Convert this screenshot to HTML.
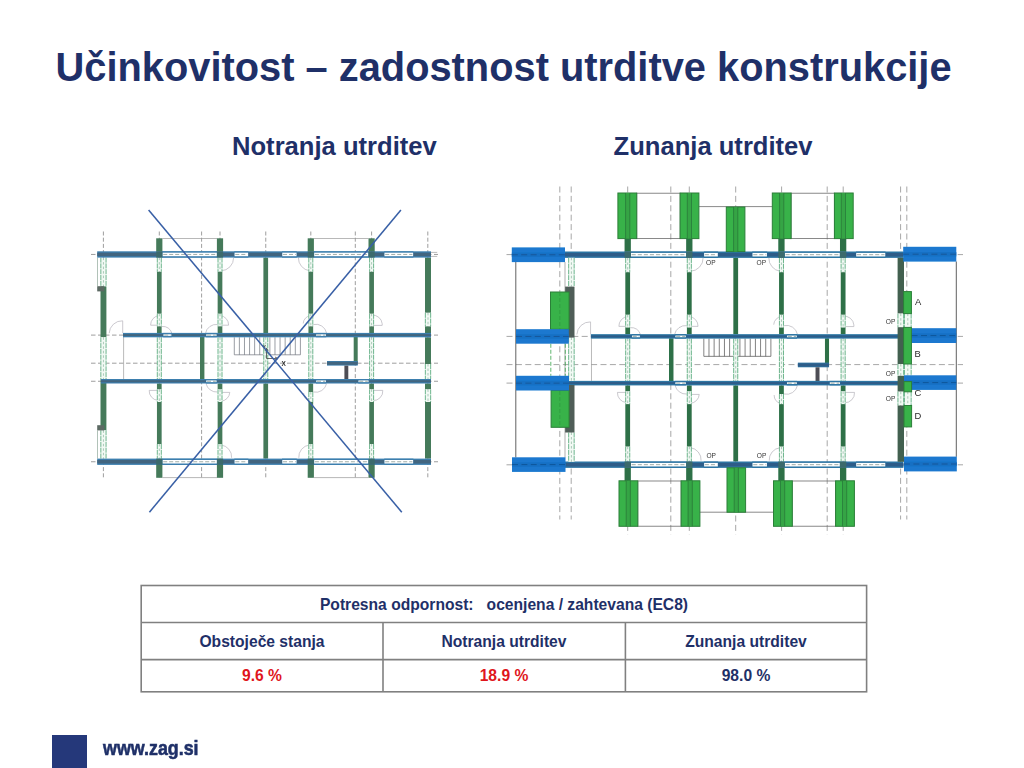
<!DOCTYPE html>
<html><head><meta charset="utf-8"><title>Slide</title>
<style>
html,body{margin:0;padding:0;background:#fff;}
body{width:1024px;height:768px;position:relative;overflow:hidden;font-family:"Liberation Sans",sans-serif;color:#1f3068;}
.t{position:absolute;white-space:nowrap;font-weight:bold;line-height:1;}
#title{left:55.6px;top:47.6px;font-size:39.82px;}
#sub1{left:232px;top:133.8px;font-size:25.6px;}
#sub2{left:613.5px;top:133.8px;font-size:25.6px;}
#tbl{position:absolute;left:140px;top:585px;width:727px;height:107px;}
.c{position:absolute;font-weight:bold;font-size:15.64px;line-height:1;text-align:center;white-space:nowrap;}
.red{color:#e0161c;}
#sq{position:absolute;left:52px;top:735px;width:34.5px;height:33px;background:#25387a;}
#www{left:102.6px;top:738.5px;font-size:19.3px;transform-origin:0 0;transform:scaleX(0.926);-webkit-text-stroke:0.55px #1f3068;}
svg{position:absolute;left:0;top:0;}
</style></head><body>
<div class="t" id="title">Učinkovitost – zadostnost utrditve konstrukcije</div>
<div class="t" id="sub1">Notranja utrditev</div>
<div class="t" id="sub2">Zunanja utrditev</div>
<svg width="1024" height="768" viewBox="0 0 1024 768" font-family="Liberation Sans, sans-serif">
<defs><filter id="bl" x="-5%" y="-5%" width="110%" height="110%"><feGaussianBlur stdDeviation="0.45"/></filter><filter id="bl2" x="-5%" y="-5%" width="110%" height="110%"><feGaussianBlur stdDeviation="0.3"/></filter></defs>
<g filter="url(#bl)">
<line x1="103.4" y1="231.5" x2="103.4" y2="478.6" stroke="#858585" stroke-width="0.8" stroke-dasharray="4 2.2"/>
<line x1="159.3" y1="231.5" x2="159.3" y2="478.6" stroke="#858585" stroke-width="0.8" stroke-dasharray="4 2.2"/>
<line x1="201.6" y1="231.5" x2="201.6" y2="478.6" stroke="#858585" stroke-width="0.8" stroke-dasharray="4 2.2"/>
<line x1="220" y1="231.5" x2="220" y2="478.6" stroke="#858585" stroke-width="0.8" stroke-dasharray="4 2.2"/>
<line x1="265.75" y1="231.5" x2="265.75" y2="478.6" stroke="#858585" stroke-width="0.8" stroke-dasharray="4 2.2"/>
<line x1="310.8" y1="231.5" x2="310.8" y2="478.6" stroke="#858585" stroke-width="0.8" stroke-dasharray="4 2.2"/>
<line x1="355.3" y1="231.5" x2="355.3" y2="478.6" stroke="#858585" stroke-width="0.8" stroke-dasharray="4 2.2"/>
<line x1="371.6" y1="231.5" x2="371.6" y2="478.6" stroke="#858585" stroke-width="0.8" stroke-dasharray="4 2.2"/>
<line x1="427.8" y1="231.5" x2="427.8" y2="478.6" stroke="#858585" stroke-width="0.8" stroke-dasharray="4 2.2"/>
<line x1="91" y1="254.45" x2="438" y2="254.45" stroke="#858585" stroke-width="0.8" stroke-dasharray="4.5 2.5"/>
<line x1="91" y1="335.1" x2="438" y2="335.1" stroke="#858585" stroke-width="0.8" stroke-dasharray="4.5 2.5"/>
<line x1="91" y1="363.2" x2="438" y2="363.2" stroke="#858585" stroke-width="0.8" stroke-dasharray="4.5 2.5"/>
<line x1="91" y1="381.25" x2="438" y2="381.25" stroke="#858585" stroke-width="0.8" stroke-dasharray="4.5 2.5"/>
<line x1="91" y1="461.75" x2="438" y2="461.75" stroke="#858585" stroke-width="0.8" stroke-dasharray="4.5 2.5"/>
<line x1="123.6" y1="337" x2="123.6" y2="379" stroke="#9d9d9d" stroke-width="0.7"/>
<path d="M234.3 337.3 V354.8 H300.4 V337.3" fill="none" stroke="#6f747c" stroke-width="0.7"/>
<line x1="239.38" y1="337.3" x2="239.38" y2="354.8" stroke="#6f747c" stroke-width="0.7"/>
<line x1="244.47" y1="337.3" x2="244.47" y2="354.8" stroke="#6f747c" stroke-width="0.7"/>
<line x1="249.55" y1="337.3" x2="249.55" y2="354.8" stroke="#6f747c" stroke-width="0.7"/>
<line x1="254.64" y1="337.3" x2="254.64" y2="354.8" stroke="#6f747c" stroke-width="0.7"/>
<line x1="259.72" y1="337.3" x2="259.72" y2="354.8" stroke="#6f747c" stroke-width="0.7"/>
<line x1="264.81" y1="337.3" x2="264.81" y2="354.8" stroke="#6f747c" stroke-width="0.7"/>
<line x1="269.89" y1="337.3" x2="269.89" y2="354.8" stroke="#6f747c" stroke-width="0.7"/>
<line x1="274.98" y1="337.3" x2="274.98" y2="354.8" stroke="#6f747c" stroke-width="0.7"/>
<line x1="280.06" y1="337.3" x2="280.06" y2="354.8" stroke="#6f747c" stroke-width="0.7"/>
<line x1="285.15" y1="337.3" x2="285.15" y2="354.8" stroke="#6f747c" stroke-width="0.7"/>
<line x1="290.23" y1="337.3" x2="290.23" y2="354.8" stroke="#6f747c" stroke-width="0.7"/>
<line x1="295.32" y1="337.3" x2="295.32" y2="354.8" stroke="#6f747c" stroke-width="0.7"/>
<path d="M159.3 315.5 A9.5 9.5 0 0 0 150.6 325.2 L159.3 325.2" fill="none" stroke="#b4b2ba" stroke-width="0.7"/>
<path d="M162 326.5 A9 9 0 0 1 171.8 333.2" fill="none" stroke="#b4b2ba" stroke-width="0.7"/>
<path d="M220 315.5 A9.5 9.5 0 0 1 228.6 325.2 L220 325.2" fill="none" stroke="#b4b2ba" stroke-width="0.7"/>
<path d="M205.5 333.2 A11 11 0 0 1 217.6 324.5" fill="none" stroke="#b4b2ba" stroke-width="0.7"/>
<path d="M233.6 257.6 A13 13 0 0 1 221 270.8" fill="none" stroke="#b4b2ba" stroke-width="0.7"/>
<path d="M298.4 257.6 A13 13 0 0 0 309.6 270.8" fill="none" stroke="#b4b2ba" stroke-width="0.7"/>
<path d="M310.8 315.5 A8.5 8.5 0 0 0 303.2 323.5" fill="none" stroke="#b4b2ba" stroke-width="0.7"/>
<path d="M313.4 324.5 A11 11 0 0 1 326.6 333.2" fill="none" stroke="#b4b2ba" stroke-width="0.7"/>
<path d="M371.6 315.2 A9.5 9.5 0 0 1 382.2 323.8 L382.2 325.4" fill="none" stroke="#b4b2ba" stroke-width="0.7"/>
<line x1="371.6" y1="325.4" x2="382.2" y2="325.4" stroke="#b4b2ba" stroke-width="0.7"/>
<path d="M149.2 390.4 A9.5 9.5 0 0 0 158 400.4" fill="none" stroke="#b4b2ba" stroke-width="0.7"/>
<line x1="149.2" y1="390.4" x2="159" y2="390.4" stroke="#b4b2ba" stroke-width="0.7"/>
<path d="M206 383.5 A11 11 0 0 0 217.6 392" fill="none" stroke="#b4b2ba" stroke-width="0.7"/>
<path d="M229.8 392.4 A9.5 9.5 0 0 1 221 401.2" fill="none" stroke="#b4b2ba" stroke-width="0.7"/>
<line x1="221" y1="392.4" x2="229.8" y2="392.4" stroke="#b4b2ba" stroke-width="0.7"/>
<path d="M221 445 A12 12 0 0 1 231.6 457.8" fill="none" stroke="#b4b2ba" stroke-width="0.7"/>
<path d="M326.6 383.5 A11 11 0 0 1 313.4 392" fill="none" stroke="#b4b2ba" stroke-width="0.7"/>
<path d="M303.6 393 A8.5 8.5 0 0 0 310 401.2" fill="none" stroke="#b4b2ba" stroke-width="0.7"/>
<path d="M298.8 457.8 A12 12 0 0 1 309.6 445" fill="none" stroke="#b4b2ba" stroke-width="0.7"/>
<path d="M382.8 390.4 A9.5 9.5 0 0 1 373 400.6" fill="none" stroke="#b4b2ba" stroke-width="0.7"/>
<line x1="371.6" y1="390.4" x2="382.8" y2="390.4" stroke="#b4b2ba" stroke-width="0.7"/>
<path d="M109.2 333.2 A13 13 0 0 1 122.7 320.8 L122.7 333.2" fill="none" stroke="#b4b2ba" stroke-width="0.7"/>
<rect x="156.95" y="257.6" width="4.7" height="14.2" fill="#f3faf5"/>
<line x1="157.3" y1="257.6" x2="157.3" y2="271.8" stroke="#5fae82" stroke-width="0.9" stroke-dasharray="5 0.8"/>
<line x1="161.3" y1="257.6" x2="161.3" y2="271.8" stroke="#5fae82" stroke-width="0.9" stroke-dasharray="5 0.8"/>
<line x1="159.3" y1="257.6" x2="159.3" y2="271.8" stroke="#7aa890" stroke-width="0.6" stroke-dasharray="2.5 2"/>
<rect x="156.95" y="271.8" width="4.7" height="42" fill="#447a5a"/>
<rect x="156.95" y="313.8" width="4.7" height="12.6" fill="#f3faf5"/>
<line x1="157.3" y1="313.8" x2="157.3" y2="326.4" stroke="#5fae82" stroke-width="0.9" stroke-dasharray="5 0.8"/>
<line x1="161.3" y1="313.8" x2="161.3" y2="326.4" stroke="#5fae82" stroke-width="0.9" stroke-dasharray="5 0.8"/>
<line x1="159.3" y1="313.8" x2="159.3" y2="326.4" stroke="#7aa890" stroke-width="0.6" stroke-dasharray="2.5 2"/>
<rect x="156.95" y="326.4" width="4.7" height="6.6" fill="#447a5a"/>
<rect x="156.95" y="337.3" width="4.7" height="41.7" fill="#f3faf5"/>
<line x1="157.3" y1="337.3" x2="157.3" y2="379" stroke="#5fae82" stroke-width="0.9" stroke-dasharray="5 0.8"/>
<line x1="161.3" y1="337.3" x2="161.3" y2="379" stroke="#5fae82" stroke-width="0.9" stroke-dasharray="5 0.8"/>
<line x1="159.3" y1="337.3" x2="159.3" y2="379" stroke="#7aa890" stroke-width="0.6" stroke-dasharray="2.5 2"/>
<rect x="156.95" y="383.5" width="4.7" height="5.9" fill="#447a5a"/>
<rect x="156.95" y="389.4" width="4.7" height="12.6" fill="#f3faf5"/>
<line x1="157.3" y1="389.4" x2="157.3" y2="402" stroke="#5fae82" stroke-width="0.9" stroke-dasharray="5 0.8"/>
<line x1="161.3" y1="389.4" x2="161.3" y2="402" stroke="#5fae82" stroke-width="0.9" stroke-dasharray="5 0.8"/>
<line x1="159.3" y1="389.4" x2="159.3" y2="402" stroke="#7aa890" stroke-width="0.6" stroke-dasharray="2.5 2"/>
<rect x="156.95" y="402" width="4.7" height="42" fill="#447a5a"/>
<rect x="156.95" y="444" width="4.7" height="14.6" fill="#f3faf5"/>
<line x1="157.3" y1="444" x2="157.3" y2="458.6" stroke="#5fae82" stroke-width="0.9" stroke-dasharray="5 0.8"/>
<line x1="161.3" y1="444" x2="161.3" y2="458.6" stroke="#5fae82" stroke-width="0.9" stroke-dasharray="5 0.8"/>
<line x1="159.3" y1="444" x2="159.3" y2="458.6" stroke="#7aa890" stroke-width="0.6" stroke-dasharray="2.5 2"/>
<rect x="217.65" y="257.6" width="4.7" height="14.2" fill="#f3faf5"/>
<line x1="218" y1="257.6" x2="218" y2="271.8" stroke="#5fae82" stroke-width="0.9" stroke-dasharray="5 0.8"/>
<line x1="222" y1="257.6" x2="222" y2="271.8" stroke="#5fae82" stroke-width="0.9" stroke-dasharray="5 0.8"/>
<line x1="220" y1="257.6" x2="220" y2="271.8" stroke="#7aa890" stroke-width="0.6" stroke-dasharray="2.5 2"/>
<rect x="217.65" y="271.8" width="4.7" height="42" fill="#447a5a"/>
<rect x="217.65" y="313.8" width="4.7" height="12.6" fill="#f3faf5"/>
<line x1="218" y1="313.8" x2="218" y2="326.4" stroke="#5fae82" stroke-width="0.9" stroke-dasharray="5 0.8"/>
<line x1="222" y1="313.8" x2="222" y2="326.4" stroke="#5fae82" stroke-width="0.9" stroke-dasharray="5 0.8"/>
<line x1="220" y1="313.8" x2="220" y2="326.4" stroke="#7aa890" stroke-width="0.6" stroke-dasharray="2.5 2"/>
<rect x="217.65" y="326.4" width="4.7" height="6.6" fill="#447a5a"/>
<rect x="217.65" y="337.3" width="4.7" height="41.7" fill="#f3faf5"/>
<line x1="218" y1="337.3" x2="218" y2="379" stroke="#5fae82" stroke-width="0.9" stroke-dasharray="5 0.8"/>
<line x1="222" y1="337.3" x2="222" y2="379" stroke="#5fae82" stroke-width="0.9" stroke-dasharray="5 0.8"/>
<line x1="220" y1="337.3" x2="220" y2="379" stroke="#7aa890" stroke-width="0.6" stroke-dasharray="2.5 2"/>
<rect x="217.65" y="383.5" width="4.7" height="5.9" fill="#447a5a"/>
<rect x="217.65" y="389.4" width="4.7" height="12.6" fill="#f3faf5"/>
<line x1="218" y1="389.4" x2="218" y2="402" stroke="#5fae82" stroke-width="0.9" stroke-dasharray="5 0.8"/>
<line x1="222" y1="389.4" x2="222" y2="402" stroke="#5fae82" stroke-width="0.9" stroke-dasharray="5 0.8"/>
<line x1="220" y1="389.4" x2="220" y2="402" stroke="#7aa890" stroke-width="0.6" stroke-dasharray="2.5 2"/>
<rect x="217.65" y="402" width="4.7" height="42" fill="#447a5a"/>
<rect x="217.65" y="444" width="4.7" height="14.6" fill="#f3faf5"/>
<line x1="218" y1="444" x2="218" y2="458.6" stroke="#5fae82" stroke-width="0.9" stroke-dasharray="5 0.8"/>
<line x1="222" y1="444" x2="222" y2="458.6" stroke="#5fae82" stroke-width="0.9" stroke-dasharray="5 0.8"/>
<line x1="220" y1="444" x2="220" y2="458.6" stroke="#7aa890" stroke-width="0.6" stroke-dasharray="2.5 2"/>
<rect x="263.4" y="257.6" width="4.7" height="75.4" fill="#447a5a"/>
<rect x="263.4" y="337.3" width="4.7" height="41.7" fill="#f3faf5"/>
<line x1="263.75" y1="337.3" x2="263.75" y2="379" stroke="#5fae82" stroke-width="0.9" stroke-dasharray="5 0.8"/>
<line x1="267.75" y1="337.3" x2="267.75" y2="379" stroke="#5fae82" stroke-width="0.9" stroke-dasharray="5 0.8"/>
<line x1="265.75" y1="337.3" x2="265.75" y2="379" stroke="#7aa890" stroke-width="0.6" stroke-dasharray="2.5 2"/>
<rect x="263.4" y="383.5" width="4.7" height="75.1" fill="#447a5a"/>
<rect x="308.45" y="257.6" width="4.7" height="14.2" fill="#f3faf5"/>
<line x1="308.8" y1="257.6" x2="308.8" y2="271.8" stroke="#5fae82" stroke-width="0.9" stroke-dasharray="5 0.8"/>
<line x1="312.8" y1="257.6" x2="312.8" y2="271.8" stroke="#5fae82" stroke-width="0.9" stroke-dasharray="5 0.8"/>
<line x1="310.8" y1="257.6" x2="310.8" y2="271.8" stroke="#7aa890" stroke-width="0.6" stroke-dasharray="2.5 2"/>
<rect x="308.45" y="271.8" width="4.7" height="42" fill="#447a5a"/>
<rect x="308.45" y="313.8" width="4.7" height="12.6" fill="#f3faf5"/>
<line x1="308.8" y1="313.8" x2="308.8" y2="326.4" stroke="#5fae82" stroke-width="0.9" stroke-dasharray="5 0.8"/>
<line x1="312.8" y1="313.8" x2="312.8" y2="326.4" stroke="#5fae82" stroke-width="0.9" stroke-dasharray="5 0.8"/>
<line x1="310.8" y1="313.8" x2="310.8" y2="326.4" stroke="#7aa890" stroke-width="0.6" stroke-dasharray="2.5 2"/>
<rect x="308.45" y="326.4" width="4.7" height="6.6" fill="#447a5a"/>
<rect x="308.45" y="337.3" width="4.7" height="41.7" fill="#f3faf5"/>
<line x1="308.8" y1="337.3" x2="308.8" y2="379" stroke="#5fae82" stroke-width="0.9" stroke-dasharray="5 0.8"/>
<line x1="312.8" y1="337.3" x2="312.8" y2="379" stroke="#5fae82" stroke-width="0.9" stroke-dasharray="5 0.8"/>
<line x1="310.8" y1="337.3" x2="310.8" y2="379" stroke="#7aa890" stroke-width="0.6" stroke-dasharray="2.5 2"/>
<rect x="308.45" y="383.5" width="4.7" height="8.5" fill="#447a5a"/>
<rect x="308.45" y="392" width="4.7" height="10" fill="#f3faf5"/>
<line x1="308.8" y1="392" x2="308.8" y2="402" stroke="#5fae82" stroke-width="0.9" stroke-dasharray="5 0.8"/>
<line x1="312.8" y1="392" x2="312.8" y2="402" stroke="#5fae82" stroke-width="0.9" stroke-dasharray="5 0.8"/>
<line x1="310.8" y1="392" x2="310.8" y2="402" stroke="#7aa890" stroke-width="0.6" stroke-dasharray="2.5 2"/>
<rect x="308.45" y="402" width="4.7" height="42" fill="#447a5a"/>
<rect x="308.45" y="444" width="4.7" height="14.6" fill="#f3faf5"/>
<line x1="308.8" y1="444" x2="308.8" y2="458.6" stroke="#5fae82" stroke-width="0.9" stroke-dasharray="5 0.8"/>
<line x1="312.8" y1="444" x2="312.8" y2="458.6" stroke="#5fae82" stroke-width="0.9" stroke-dasharray="5 0.8"/>
<line x1="310.8" y1="444" x2="310.8" y2="458.6" stroke="#7aa890" stroke-width="0.6" stroke-dasharray="2.5 2"/>
<rect x="369.25" y="257.6" width="4.7" height="14.2" fill="#f3faf5"/>
<line x1="369.6" y1="257.6" x2="369.6" y2="271.8" stroke="#5fae82" stroke-width="0.9" stroke-dasharray="5 0.8"/>
<line x1="373.6" y1="257.6" x2="373.6" y2="271.8" stroke="#5fae82" stroke-width="0.9" stroke-dasharray="5 0.8"/>
<line x1="371.6" y1="257.6" x2="371.6" y2="271.8" stroke="#7aa890" stroke-width="0.6" stroke-dasharray="2.5 2"/>
<rect x="369.25" y="271.8" width="4.7" height="42" fill="#447a5a"/>
<rect x="369.25" y="313.8" width="4.7" height="12.6" fill="#f3faf5"/>
<line x1="369.6" y1="313.8" x2="369.6" y2="326.4" stroke="#5fae82" stroke-width="0.9" stroke-dasharray="5 0.8"/>
<line x1="373.6" y1="313.8" x2="373.6" y2="326.4" stroke="#5fae82" stroke-width="0.9" stroke-dasharray="5 0.8"/>
<line x1="371.6" y1="313.8" x2="371.6" y2="326.4" stroke="#7aa890" stroke-width="0.6" stroke-dasharray="2.5 2"/>
<rect x="369.25" y="326.4" width="4.7" height="6.6" fill="#447a5a"/>
<rect x="369.25" y="337.3" width="4.7" height="41.7" fill="#f3faf5"/>
<line x1="369.6" y1="337.3" x2="369.6" y2="379" stroke="#5fae82" stroke-width="0.9" stroke-dasharray="5 0.8"/>
<line x1="373.6" y1="337.3" x2="373.6" y2="379" stroke="#5fae82" stroke-width="0.9" stroke-dasharray="5 0.8"/>
<line x1="371.6" y1="337.3" x2="371.6" y2="379" stroke="#7aa890" stroke-width="0.6" stroke-dasharray="2.5 2"/>
<rect x="369.25" y="383.5" width="4.7" height="5.9" fill="#447a5a"/>
<rect x="369.25" y="389.4" width="4.7" height="12.6" fill="#f3faf5"/>
<line x1="369.6" y1="389.4" x2="369.6" y2="402" stroke="#5fae82" stroke-width="0.9" stroke-dasharray="5 0.8"/>
<line x1="373.6" y1="389.4" x2="373.6" y2="402" stroke="#5fae82" stroke-width="0.9" stroke-dasharray="5 0.8"/>
<line x1="371.6" y1="389.4" x2="371.6" y2="402" stroke="#7aa890" stroke-width="0.6" stroke-dasharray="2.5 2"/>
<rect x="369.25" y="402" width="4.7" height="42" fill="#447a5a"/>
<rect x="369.25" y="444" width="4.7" height="14.6" fill="#f3faf5"/>
<line x1="369.6" y1="444" x2="369.6" y2="458.6" stroke="#5fae82" stroke-width="0.9" stroke-dasharray="5 0.8"/>
<line x1="373.6" y1="444" x2="373.6" y2="458.6" stroke="#5fae82" stroke-width="0.9" stroke-dasharray="5 0.8"/>
<line x1="371.6" y1="444" x2="371.6" y2="458.6" stroke="#7aa890" stroke-width="0.6" stroke-dasharray="2.5 2"/>
<rect x="156.2" y="238.3" width="6.2" height="13.3" fill="#447a5a"/>
<rect x="156.2" y="464.6" width="6.2" height="13.2" fill="#447a5a"/>
<rect x="216.9" y="238.3" width="6.2" height="13.3" fill="#447a5a"/>
<rect x="216.9" y="464.6" width="6.2" height="13.2" fill="#447a5a"/>
<rect x="307.7" y="238.3" width="6.2" height="13.3" fill="#447a5a"/>
<rect x="307.7" y="464.6" width="6.2" height="13.2" fill="#447a5a"/>
<rect x="368.5" y="238.3" width="6.2" height="13.3" fill="#447a5a"/>
<rect x="368.5" y="464.6" width="6.2" height="13.2" fill="#447a5a"/>
<line x1="162.3" y1="238.5" x2="217" y2="238.5" stroke="#9a9a9a" stroke-width="0.7"/>
<line x1="162.3" y1="477.6" x2="217" y2="477.6" stroke="#9a9a9a" stroke-width="0.7"/>
<line x1="313.8" y1="238.5" x2="368.6" y2="238.5" stroke="#9a9a9a" stroke-width="0.7"/>
<line x1="313.8" y1="477.6" x2="368.6" y2="477.6" stroke="#9a9a9a" stroke-width="0.7"/>
<rect x="200" y="337" width="4.4" height="42.2" fill="#447a5a"/>
<rect x="353.7" y="337" width="4" height="26" fill="#447a5a"/>
<rect x="327" y="361" width="30.7" height="4.6" fill="#3c7fae"/>
<rect x="327" y="361.8" width="30.7" height="3" fill="#42657f"/>
<rect x="344.4" y="365.6" width="3.9" height="13.6" fill="#4e4e54"/>
<rect x="425" y="257.6" width="6" height="55.2" fill="#447a5a"/>
<rect x="425" y="312.8" width="6" height="13.6" fill="#f3faf5"/>
<line x1="425.35" y1="312.8" x2="425.35" y2="326.4" stroke="#5fae82" stroke-width="0.9" stroke-dasharray="5 0.8"/>
<line x1="430.65" y1="312.8" x2="430.65" y2="326.4" stroke="#5fae82" stroke-width="0.9" stroke-dasharray="5 0.8"/>
<line x1="428" y1="312.8" x2="428" y2="326.4" stroke="#7aa890" stroke-width="0.6" stroke-dasharray="2.5 2"/>
<rect x="425" y="326.4" width="6" height="6.6" fill="#447a5a"/>
<rect x="425" y="337.3" width="6" height="26.7" fill="#447a5a"/>
<rect x="425" y="364" width="6" height="15" fill="#f3faf5"/>
<line x1="425.35" y1="364" x2="425.35" y2="379" stroke="#5fae82" stroke-width="0.9" stroke-dasharray="5 0.8"/>
<line x1="430.65" y1="364" x2="430.65" y2="379" stroke="#5fae82" stroke-width="0.9" stroke-dasharray="5 0.8"/>
<line x1="428" y1="364" x2="428" y2="379" stroke="#7aa890" stroke-width="0.6" stroke-dasharray="2.5 2"/>
<rect x="425" y="383.5" width="6" height="5.9" fill="#447a5a"/>
<rect x="425" y="389.4" width="6" height="12.6" fill="#f3faf5"/>
<line x1="425.35" y1="389.4" x2="425.35" y2="402" stroke="#5fae82" stroke-width="0.9" stroke-dasharray="5 0.8"/>
<line x1="430.65" y1="389.4" x2="430.65" y2="402" stroke="#5fae82" stroke-width="0.9" stroke-dasharray="5 0.8"/>
<line x1="428" y1="389.4" x2="428" y2="402" stroke="#7aa890" stroke-width="0.6" stroke-dasharray="2.5 2"/>
<rect x="425" y="402" width="6" height="56.6" fill="#447a5a"/>
<rect x="100.5" y="257.6" width="5.9" height="28.8" fill="#f3faf5"/>
<line x1="100.85" y1="257.6" x2="100.85" y2="286.4" stroke="#5fae82" stroke-width="0.9" stroke-dasharray="5 0.8"/>
<line x1="106.05" y1="257.6" x2="106.05" y2="286.4" stroke="#5fae82" stroke-width="0.9" stroke-dasharray="5 0.8"/>
<line x1="103.45" y1="257.6" x2="103.45" y2="286.4" stroke="#7aa890" stroke-width="0.6" stroke-dasharray="2.5 2"/>
<rect x="100.5" y="286.4" width="5.9" height="50.9" fill="#447a5a"/>
<rect x="100.5" y="337.3" width="5.9" height="41.7" fill="#f3faf5"/>
<line x1="100.85" y1="337.3" x2="100.85" y2="379" stroke="#5fae82" stroke-width="0.9" stroke-dasharray="5 0.8"/>
<line x1="106.05" y1="337.3" x2="106.05" y2="379" stroke="#5fae82" stroke-width="0.9" stroke-dasharray="5 0.8"/>
<line x1="103.45" y1="337.3" x2="103.45" y2="379" stroke="#7aa890" stroke-width="0.6" stroke-dasharray="2.5 2"/>
<rect x="100.5" y="379" width="5.9" height="51.3" fill="#447a5a"/>
<rect x="100.5" y="430.3" width="5.9" height="28.3" fill="#f3faf5"/>
<line x1="100.85" y1="430.3" x2="100.85" y2="458.6" stroke="#5fae82" stroke-width="0.9" stroke-dasharray="5 0.8"/>
<line x1="106.05" y1="430.3" x2="106.05" y2="458.6" stroke="#5fae82" stroke-width="0.9" stroke-dasharray="5 0.8"/>
<line x1="103.45" y1="430.3" x2="103.45" y2="458.6" stroke="#7aa890" stroke-width="0.6" stroke-dasharray="2.5 2"/>
<rect x="97.2" y="286.2" width="7" height="5.2" fill="#5c6a64"/>
<rect x="97.2" y="425.2" width="7" height="5.2" fill="#5c6a64"/>
<line x1="97.5" y1="257.6" x2="97.5" y2="286.4" stroke="#8fa89a" stroke-width="0.7"/>
<line x1="97.5" y1="430.3" x2="97.5" y2="458.6" stroke="#8fa89a" stroke-width="0.7"/>
<rect x="97.2" y="251.3" width="333.8" height="6.3" fill="#3c7fae"/>
<rect x="97.2" y="252.7" width="333.8" height="3.5" fill="#42657f"/>
<rect x="97.2" y="458.6" width="333.8" height="6.3" fill="#3c7fae"/>
<rect x="97.2" y="460" width="333.8" height="3.5" fill="#42657f"/>
<rect x="123" y="332.9" width="308" height="4.4" fill="#3c7fae"/>
<rect x="123" y="334.1" width="308" height="2" fill="#42657f"/>
<rect x="101" y="379" width="330" height="4.5" fill="#3c7fae"/>
<rect x="101" y="380.2" width="330" height="2.1" fill="#42657f"/>
<rect x="162.2" y="251.3" width="55" height="6.3" fill="#3c7fae"/>
<rect x="162.5" y="252.7" width="54.4" height="3.5" fill="#fff"/>
<line x1="163.2" y1="254.45" x2="216.2" y2="254.45" stroke="#8a9a94" stroke-width="0.8" stroke-dasharray="4 2"/>
<rect x="234.3" y="251.3" width="14.1" height="6.3" fill="#3c7fae"/>
<rect x="234.6" y="252.7" width="13.5" height="3.5" fill="#fff"/>
<line x1="235.3" y1="254.45" x2="247.4" y2="254.45" stroke="#8a9a94" stroke-width="0.8" stroke-dasharray="4 2"/>
<rect x="282" y="251.3" width="14.8" height="6.3" fill="#3c7fae"/>
<rect x="282.3" y="252.7" width="14.2" height="3.5" fill="#fff"/>
<line x1="283" y1="254.45" x2="295.8" y2="254.45" stroke="#8a9a94" stroke-width="0.8" stroke-dasharray="4 2"/>
<rect x="313.9" y="251.3" width="54.7" height="6.3" fill="#3c7fae"/>
<rect x="314.2" y="252.7" width="54.1" height="3.5" fill="#fff"/>
<line x1="314.9" y1="254.45" x2="367.6" y2="254.45" stroke="#8a9a94" stroke-width="0.8" stroke-dasharray="4 2"/>
<rect x="384.2" y="251.3" width="29.2" height="6.3" fill="#3c7fae"/>
<rect x="384.5" y="252.7" width="28.6" height="3.5" fill="#fff"/>
<line x1="385.2" y1="254.45" x2="412.4" y2="254.45" stroke="#8a9a94" stroke-width="0.8" stroke-dasharray="4 2"/>
<rect x="162.2" y="458.6" width="55" height="6.3" fill="#3c7fae"/>
<rect x="162.5" y="460" width="54.4" height="3.5" fill="#fff"/>
<line x1="163.2" y1="461.75" x2="216.2" y2="461.75" stroke="#8a9a94" stroke-width="0.8" stroke-dasharray="4 2"/>
<rect x="234.3" y="458.6" width="14.1" height="6.3" fill="#3c7fae"/>
<rect x="234.6" y="460" width="13.5" height="3.5" fill="#fff"/>
<line x1="235.3" y1="461.75" x2="247.4" y2="461.75" stroke="#8a9a94" stroke-width="0.8" stroke-dasharray="4 2"/>
<rect x="282" y="458.6" width="14.8" height="6.3" fill="#3c7fae"/>
<rect x="282.3" y="460" width="14.2" height="3.5" fill="#fff"/>
<line x1="283" y1="461.75" x2="295.8" y2="461.75" stroke="#8a9a94" stroke-width="0.8" stroke-dasharray="4 2"/>
<rect x="313.9" y="458.6" width="54.7" height="6.3" fill="#3c7fae"/>
<rect x="314.2" y="460" width="54.1" height="3.5" fill="#fff"/>
<line x1="314.9" y1="461.75" x2="367.6" y2="461.75" stroke="#8a9a94" stroke-width="0.8" stroke-dasharray="4 2"/>
<rect x="384.2" y="458.6" width="29.2" height="6.3" fill="#3c7fae"/>
<rect x="384.5" y="460" width="28.6" height="3.5" fill="#fff"/>
<line x1="385.2" y1="461.75" x2="412.4" y2="461.75" stroke="#8a9a94" stroke-width="0.8" stroke-dasharray="4 2"/>
<rect x="156.2" y="251.3" width="6.2" height="6.3" fill="#3b6b6c"/>
<rect x="216.9" y="251.3" width="6.2" height="6.3" fill="#3b6b6c"/>
<rect x="307.7" y="251.3" width="6.2" height="6.3" fill="#3b6b6c"/>
<rect x="368.5" y="251.3" width="6.2" height="6.3" fill="#3b6b6c"/>
<rect x="156.2" y="458.6" width="6.2" height="6.3" fill="#3b6b6c"/>
<rect x="216.9" y="458.6" width="6.2" height="6.3" fill="#3b6b6c"/>
<rect x="307.7" y="458.6" width="6.2" height="6.3" fill="#3b6b6c"/>
<rect x="368.5" y="458.6" width="6.2" height="6.3" fill="#3b6b6c"/>
<rect x="163.2" y="332.9" width="8.4" height="4.4" fill="#3c7fae"/>
<rect x="163.5" y="334.3" width="7.8" height="1.6" fill="#fff"/>
<line x1="164.2" y1="335.1" x2="170.6" y2="335.1" stroke="#8a9a94" stroke-width="0.8" stroke-dasharray="4 2"/>
<rect x="206" y="332.9" width="10.8" height="4.4" fill="#3c7fae"/>
<rect x="206.3" y="334.3" width="10.2" height="1.6" fill="#fff"/>
<line x1="207" y1="335.1" x2="215.8" y2="335.1" stroke="#8a9a94" stroke-width="0.8" stroke-dasharray="4 2"/>
<rect x="316" y="332.9" width="10.2" height="4.4" fill="#3c7fae"/>
<rect x="316.3" y="334.3" width="9.6" height="1.6" fill="#fff"/>
<line x1="317" y1="335.1" x2="325.2" y2="335.1" stroke="#8a9a94" stroke-width="0.8" stroke-dasharray="4 2"/>
<rect x="206" y="379" width="10.8" height="4.5" fill="#3c7fae"/>
<rect x="206.3" y="380.4" width="10.2" height="1.7" fill="#fff"/>
<line x1="207" y1="381.25" x2="215.8" y2="381.25" stroke="#8a9a94" stroke-width="0.8" stroke-dasharray="4 2"/>
<rect x="316" y="379" width="10.2" height="4.5" fill="#3c7fae"/>
<rect x="316.3" y="380.4" width="9.6" height="1.7" fill="#fff"/>
<line x1="317" y1="381.25" x2="325.2" y2="381.25" stroke="#8a9a94" stroke-width="0.8" stroke-dasharray="4 2"/>
<rect x="358.2" y="379" width="10.6" height="4.5" fill="#3c7fae"/>
<rect x="358.5" y="380.4" width="10" height="1.7" fill="#fff"/>
<line x1="359.2" y1="381.25" x2="367.8" y2="381.25" stroke="#8a9a94" stroke-width="0.8" stroke-dasharray="4 2"/>
<line x1="431" y1="252.4" x2="437.2" y2="252.4" stroke="#8a8a8a" stroke-width="0.6"/>
<line x1="431" y1="256.4" x2="437.2" y2="256.4" stroke="#8a8a8a" stroke-width="0.6"/>
<g stroke="#444" stroke-width="0.8" fill="none"><path d="M266.5 349 V358.5 H277"/><path d="M265 351 L266.5 348 L268 351"/><path d="M275 357 L278 358.5 L275 360"/></g>
<text x="262.2" y="348.5" font-size="5.5" font-weight="bold" fill="#333">Y</text>
<text x="281.5" y="366" font-size="6.5" font-weight="bold" fill="#333">X</text>
<g stroke="#3960a6" stroke-width="1.55" stroke-linecap="butt"><line x1="148.6" y1="210" x2="401.8" y2="512.2"/><line x1="400.9" y1="210" x2="149.4" y2="512.2"/></g>
</g>
<g filter="url(#bl2)">
<line x1="559.8" y1="186.5" x2="559.8" y2="519.5" stroke="#8a8a8a" stroke-width="0.75" stroke-dasharray="6 3.4"/>
<line x1="571.2" y1="186.5" x2="571.2" y2="519.5" stroke="#8a8a8a" stroke-width="0.75" stroke-dasharray="6 3.4"/>
<line x1="900.6" y1="186.5" x2="900.6" y2="519.5" stroke="#8a8a8a" stroke-width="0.75" stroke-dasharray="6 3.4"/>
<line x1="906.8" y1="186.5" x2="906.8" y2="519.5" stroke="#8a8a8a" stroke-width="0.75" stroke-dasharray="6 3.4"/>
<line x1="627.7" y1="186.5" x2="627.7" y2="534.5" stroke="#8a8a8a" stroke-width="0.75" stroke-dasharray="6 3.4"/>
<line x1="670.8" y1="186.5" x2="670.8" y2="534.5" stroke="#8a8a8a" stroke-width="0.75" stroke-dasharray="6 3.4"/>
<line x1="689.3" y1="186.5" x2="689.3" y2="534.5" stroke="#8a8a8a" stroke-width="0.75" stroke-dasharray="6 3.4"/>
<line x1="735.7" y1="186.5" x2="735.7" y2="534.5" stroke="#8a8a8a" stroke-width="0.75" stroke-dasharray="6 3.4"/>
<line x1="781.6" y1="186.5" x2="781.6" y2="534.5" stroke="#8a8a8a" stroke-width="0.75" stroke-dasharray="6 3.4"/>
<line x1="827.2" y1="186.5" x2="827.2" y2="534.5" stroke="#8a8a8a" stroke-width="0.75" stroke-dasharray="6 3.4"/>
<line x1="843.2" y1="186.5" x2="843.2" y2="534.5" stroke="#8a8a8a" stroke-width="0.75" stroke-dasharray="6 3.4"/>
<line x1="506.5" y1="254.6" x2="963" y2="254.6" stroke="#8a8a8a" stroke-width="0.75" stroke-dasharray="6 3.4"/>
<line x1="506.5" y1="336.4" x2="963" y2="336.4" stroke="#8a8a8a" stroke-width="0.75" stroke-dasharray="6 3.4"/>
<line x1="506.5" y1="364.6" x2="963" y2="364.6" stroke="#8a8a8a" stroke-width="0.75" stroke-dasharray="6 3.4"/>
<line x1="506.5" y1="383.1" x2="963" y2="383.1" stroke="#8a8a8a" stroke-width="0.75" stroke-dasharray="6 3.4"/>
<line x1="506.5" y1="464.8" x2="963" y2="464.8" stroke="#8a8a8a" stroke-width="0.75" stroke-dasharray="6 3.4"/>
<line x1="515.8" y1="262" x2="515.8" y2="457.5" stroke="#505050" stroke-width="0.9"/>
<line x1="956.3" y1="261.5" x2="956.3" y2="456.8" stroke="#505050" stroke-width="0.9"/>
<rect x="636.8" y="193.2" width="43.4" height="45.4" stroke="#6c6c6c" stroke-width="0.8" fill="none"/>
<rect x="791" y="193.2" width="43.4" height="45.4" stroke="#6c6c6c" stroke-width="0.8" fill="none"/>
<line x1="698.6" y1="206.6" x2="772.2" y2="206.6" stroke="#6c6c6c" stroke-width="0.8" fill="none"/>
<rect x="637.8" y="481" width="43.4" height="45.2" stroke="#6c6c6c" stroke-width="0.8" fill="none"/>
<rect x="792" y="481" width="43.6" height="45.2" stroke="#6c6c6c" stroke-width="0.8" fill="none"/>
<line x1="699.6" y1="512.2" x2="773.4" y2="512.2" stroke="#6c6c6c" stroke-width="0.8" fill="none"/>
<g transform="translate(564.7 251.5) scale(1.0147 1.013) translate(-97.2 -251.3)">
<line x1="123.6" y1="337" x2="123.6" y2="379" stroke="#9d9d9d" stroke-width="0.7"/>
<path d="M234.3 337.3 V354.8 H300.4 V337.3" fill="none" stroke="#505050" stroke-width="0.7"/>
<line x1="239.38" y1="337.3" x2="239.38" y2="354.8" stroke="#505050" stroke-width="0.7"/>
<line x1="244.47" y1="337.3" x2="244.47" y2="354.8" stroke="#505050" stroke-width="0.7"/>
<line x1="249.55" y1="337.3" x2="249.55" y2="354.8" stroke="#505050" stroke-width="0.7"/>
<line x1="254.64" y1="337.3" x2="254.64" y2="354.8" stroke="#505050" stroke-width="0.7"/>
<line x1="259.72" y1="337.3" x2="259.72" y2="354.8" stroke="#505050" stroke-width="0.7"/>
<line x1="264.81" y1="337.3" x2="264.81" y2="354.8" stroke="#505050" stroke-width="0.7"/>
<line x1="269.89" y1="337.3" x2="269.89" y2="354.8" stroke="#505050" stroke-width="0.7"/>
<line x1="274.98" y1="337.3" x2="274.98" y2="354.8" stroke="#505050" stroke-width="0.7"/>
<line x1="280.06" y1="337.3" x2="280.06" y2="354.8" stroke="#505050" stroke-width="0.7"/>
<line x1="285.15" y1="337.3" x2="285.15" y2="354.8" stroke="#505050" stroke-width="0.7"/>
<line x1="290.23" y1="337.3" x2="290.23" y2="354.8" stroke="#505050" stroke-width="0.7"/>
<line x1="295.32" y1="337.3" x2="295.32" y2="354.8" stroke="#505050" stroke-width="0.7"/>
<path d="M159.3 315.5 A9.5 9.5 0 0 0 150.6 325.2 L159.3 325.2" fill="none" stroke="#b4b2ba" stroke-width="0.7"/>
<path d="M162 326.5 A9 9 0 0 1 171.8 333.2" fill="none" stroke="#b4b2ba" stroke-width="0.7"/>
<path d="M220 315.5 A9.5 9.5 0 0 1 228.6 325.2 L220 325.2" fill="none" stroke="#b4b2ba" stroke-width="0.7"/>
<path d="M205.5 333.2 A11 11 0 0 1 217.6 324.5" fill="none" stroke="#b4b2ba" stroke-width="0.7"/>
<path d="M233.6 257.6 A13 13 0 0 1 221 270.8" fill="none" stroke="#b4b2ba" stroke-width="0.7"/>
<path d="M298.4 257.6 A13 13 0 0 0 309.6 270.8" fill="none" stroke="#b4b2ba" stroke-width="0.7"/>
<path d="M310.8 315.5 A8.5 8.5 0 0 0 303.2 323.5" fill="none" stroke="#b4b2ba" stroke-width="0.7"/>
<path d="M313.4 324.5 A11 11 0 0 1 326.6 333.2" fill="none" stroke="#b4b2ba" stroke-width="0.7"/>
<path d="M371.6 315.2 A9.5 9.5 0 0 1 382.2 323.8 L382.2 325.4" fill="none" stroke="#b4b2ba" stroke-width="0.7"/>
<line x1="371.6" y1="325.4" x2="382.2" y2="325.4" stroke="#b4b2ba" stroke-width="0.7"/>
<path d="M149.2 390.4 A9.5 9.5 0 0 0 158 400.4" fill="none" stroke="#b4b2ba" stroke-width="0.7"/>
<line x1="149.2" y1="390.4" x2="159" y2="390.4" stroke="#b4b2ba" stroke-width="0.7"/>
<path d="M206 383.5 A11 11 0 0 0 217.6 392" fill="none" stroke="#b4b2ba" stroke-width="0.7"/>
<path d="M229.8 392.4 A9.5 9.5 0 0 1 221 401.2" fill="none" stroke="#b4b2ba" stroke-width="0.7"/>
<line x1="221" y1="392.4" x2="229.8" y2="392.4" stroke="#b4b2ba" stroke-width="0.7"/>
<path d="M221 445 A12 12 0 0 1 231.6 457.8" fill="none" stroke="#b4b2ba" stroke-width="0.7"/>
<path d="M326.6 383.5 A11 11 0 0 1 313.4 392" fill="none" stroke="#b4b2ba" stroke-width="0.7"/>
<path d="M303.6 393 A8.5 8.5 0 0 0 310 401.2" fill="none" stroke="#b4b2ba" stroke-width="0.7"/>
<path d="M298.8 457.8 A12 12 0 0 1 309.6 445" fill="none" stroke="#b4b2ba" stroke-width="0.7"/>
<path d="M382.8 390.4 A9.5 9.5 0 0 1 373 400.6" fill="none" stroke="#b4b2ba" stroke-width="0.7"/>
<line x1="371.6" y1="390.4" x2="382.8" y2="390.4" stroke="#b4b2ba" stroke-width="0.7"/>
<path d="M109.2 333.2 A13 13 0 0 1 122.7 320.8 L122.7 333.2" fill="none" stroke="#b4b2ba" stroke-width="0.7"/>
<rect x="156.95" y="257.6" width="4.7" height="14.2" fill="#f3faf5"/>
<line x1="157.3" y1="257.6" x2="157.3" y2="271.8" stroke="#5fae82" stroke-width="0.9" stroke-dasharray="5 0.8"/>
<line x1="161.3" y1="257.6" x2="161.3" y2="271.8" stroke="#5fae82" stroke-width="0.9" stroke-dasharray="5 0.8"/>
<line x1="159.3" y1="257.6" x2="159.3" y2="271.8" stroke="#7aa890" stroke-width="0.6" stroke-dasharray="2.5 2"/>
<rect x="156.95" y="271.8" width="4.7" height="42" fill="#2d7047"/>
<rect x="156.95" y="313.8" width="4.7" height="12.6" fill="#f3faf5"/>
<line x1="157.3" y1="313.8" x2="157.3" y2="326.4" stroke="#5fae82" stroke-width="0.9" stroke-dasharray="5 0.8"/>
<line x1="161.3" y1="313.8" x2="161.3" y2="326.4" stroke="#5fae82" stroke-width="0.9" stroke-dasharray="5 0.8"/>
<line x1="159.3" y1="313.8" x2="159.3" y2="326.4" stroke="#7aa890" stroke-width="0.6" stroke-dasharray="2.5 2"/>
<rect x="156.95" y="326.4" width="4.7" height="6.6" fill="#2d7047"/>
<rect x="156.95" y="337.3" width="4.7" height="41.7" fill="#f3faf5"/>
<line x1="157.3" y1="337.3" x2="157.3" y2="379" stroke="#5fae82" stroke-width="0.9" stroke-dasharray="5 0.8"/>
<line x1="161.3" y1="337.3" x2="161.3" y2="379" stroke="#5fae82" stroke-width="0.9" stroke-dasharray="5 0.8"/>
<line x1="159.3" y1="337.3" x2="159.3" y2="379" stroke="#7aa890" stroke-width="0.6" stroke-dasharray="2.5 2"/>
<rect x="156.95" y="383.5" width="4.7" height="5.9" fill="#2d7047"/>
<rect x="156.95" y="389.4" width="4.7" height="12.6" fill="#f3faf5"/>
<line x1="157.3" y1="389.4" x2="157.3" y2="402" stroke="#5fae82" stroke-width="0.9" stroke-dasharray="5 0.8"/>
<line x1="161.3" y1="389.4" x2="161.3" y2="402" stroke="#5fae82" stroke-width="0.9" stroke-dasharray="5 0.8"/>
<line x1="159.3" y1="389.4" x2="159.3" y2="402" stroke="#7aa890" stroke-width="0.6" stroke-dasharray="2.5 2"/>
<rect x="156.95" y="402" width="4.7" height="42" fill="#2d7047"/>
<rect x="156.95" y="444" width="4.7" height="14.6" fill="#f3faf5"/>
<line x1="157.3" y1="444" x2="157.3" y2="458.6" stroke="#5fae82" stroke-width="0.9" stroke-dasharray="5 0.8"/>
<line x1="161.3" y1="444" x2="161.3" y2="458.6" stroke="#5fae82" stroke-width="0.9" stroke-dasharray="5 0.8"/>
<line x1="159.3" y1="444" x2="159.3" y2="458.6" stroke="#7aa890" stroke-width="0.6" stroke-dasharray="2.5 2"/>
<rect x="217.65" y="257.6" width="4.7" height="14.2" fill="#f3faf5"/>
<line x1="218" y1="257.6" x2="218" y2="271.8" stroke="#5fae82" stroke-width="0.9" stroke-dasharray="5 0.8"/>
<line x1="222" y1="257.6" x2="222" y2="271.8" stroke="#5fae82" stroke-width="0.9" stroke-dasharray="5 0.8"/>
<line x1="220" y1="257.6" x2="220" y2="271.8" stroke="#7aa890" stroke-width="0.6" stroke-dasharray="2.5 2"/>
<rect x="217.65" y="271.8" width="4.7" height="42" fill="#2d7047"/>
<rect x="217.65" y="313.8" width="4.7" height="12.6" fill="#f3faf5"/>
<line x1="218" y1="313.8" x2="218" y2="326.4" stroke="#5fae82" stroke-width="0.9" stroke-dasharray="5 0.8"/>
<line x1="222" y1="313.8" x2="222" y2="326.4" stroke="#5fae82" stroke-width="0.9" stroke-dasharray="5 0.8"/>
<line x1="220" y1="313.8" x2="220" y2="326.4" stroke="#7aa890" stroke-width="0.6" stroke-dasharray="2.5 2"/>
<rect x="217.65" y="326.4" width="4.7" height="6.6" fill="#2d7047"/>
<rect x="217.65" y="337.3" width="4.7" height="41.7" fill="#f3faf5"/>
<line x1="218" y1="337.3" x2="218" y2="379" stroke="#5fae82" stroke-width="0.9" stroke-dasharray="5 0.8"/>
<line x1="222" y1="337.3" x2="222" y2="379" stroke="#5fae82" stroke-width="0.9" stroke-dasharray="5 0.8"/>
<line x1="220" y1="337.3" x2="220" y2="379" stroke="#7aa890" stroke-width="0.6" stroke-dasharray="2.5 2"/>
<rect x="217.65" y="383.5" width="4.7" height="5.9" fill="#2d7047"/>
<rect x="217.65" y="389.4" width="4.7" height="12.6" fill="#f3faf5"/>
<line x1="218" y1="389.4" x2="218" y2="402" stroke="#5fae82" stroke-width="0.9" stroke-dasharray="5 0.8"/>
<line x1="222" y1="389.4" x2="222" y2="402" stroke="#5fae82" stroke-width="0.9" stroke-dasharray="5 0.8"/>
<line x1="220" y1="389.4" x2="220" y2="402" stroke="#7aa890" stroke-width="0.6" stroke-dasharray="2.5 2"/>
<rect x="217.65" y="402" width="4.7" height="42" fill="#2d7047"/>
<rect x="217.65" y="444" width="4.7" height="14.6" fill="#f3faf5"/>
<line x1="218" y1="444" x2="218" y2="458.6" stroke="#5fae82" stroke-width="0.9" stroke-dasharray="5 0.8"/>
<line x1="222" y1="444" x2="222" y2="458.6" stroke="#5fae82" stroke-width="0.9" stroke-dasharray="5 0.8"/>
<line x1="220" y1="444" x2="220" y2="458.6" stroke="#7aa890" stroke-width="0.6" stroke-dasharray="2.5 2"/>
<rect x="263.4" y="257.6" width="4.7" height="75.4" fill="#2d7047"/>
<rect x="263.4" y="337.3" width="4.7" height="41.7" fill="#f3faf5"/>
<line x1="263.75" y1="337.3" x2="263.75" y2="379" stroke="#5fae82" stroke-width="0.9" stroke-dasharray="5 0.8"/>
<line x1="267.75" y1="337.3" x2="267.75" y2="379" stroke="#5fae82" stroke-width="0.9" stroke-dasharray="5 0.8"/>
<line x1="265.75" y1="337.3" x2="265.75" y2="379" stroke="#7aa890" stroke-width="0.6" stroke-dasharray="2.5 2"/>
<rect x="263.4" y="383.5" width="4.7" height="75.1" fill="#2d7047"/>
<rect x="308.45" y="257.6" width="4.7" height="14.2" fill="#f3faf5"/>
<line x1="308.8" y1="257.6" x2="308.8" y2="271.8" stroke="#5fae82" stroke-width="0.9" stroke-dasharray="5 0.8"/>
<line x1="312.8" y1="257.6" x2="312.8" y2="271.8" stroke="#5fae82" stroke-width="0.9" stroke-dasharray="5 0.8"/>
<line x1="310.8" y1="257.6" x2="310.8" y2="271.8" stroke="#7aa890" stroke-width="0.6" stroke-dasharray="2.5 2"/>
<rect x="308.45" y="271.8" width="4.7" height="42" fill="#2d7047"/>
<rect x="308.45" y="313.8" width="4.7" height="12.6" fill="#f3faf5"/>
<line x1="308.8" y1="313.8" x2="308.8" y2="326.4" stroke="#5fae82" stroke-width="0.9" stroke-dasharray="5 0.8"/>
<line x1="312.8" y1="313.8" x2="312.8" y2="326.4" stroke="#5fae82" stroke-width="0.9" stroke-dasharray="5 0.8"/>
<line x1="310.8" y1="313.8" x2="310.8" y2="326.4" stroke="#7aa890" stroke-width="0.6" stroke-dasharray="2.5 2"/>
<rect x="308.45" y="326.4" width="4.7" height="6.6" fill="#2d7047"/>
<rect x="308.45" y="337.3" width="4.7" height="41.7" fill="#f3faf5"/>
<line x1="308.8" y1="337.3" x2="308.8" y2="379" stroke="#5fae82" stroke-width="0.9" stroke-dasharray="5 0.8"/>
<line x1="312.8" y1="337.3" x2="312.8" y2="379" stroke="#5fae82" stroke-width="0.9" stroke-dasharray="5 0.8"/>
<line x1="310.8" y1="337.3" x2="310.8" y2="379" stroke="#7aa890" stroke-width="0.6" stroke-dasharray="2.5 2"/>
<rect x="308.45" y="383.5" width="4.7" height="8.5" fill="#2d7047"/>
<rect x="308.45" y="392" width="4.7" height="10" fill="#f3faf5"/>
<line x1="308.8" y1="392" x2="308.8" y2="402" stroke="#5fae82" stroke-width="0.9" stroke-dasharray="5 0.8"/>
<line x1="312.8" y1="392" x2="312.8" y2="402" stroke="#5fae82" stroke-width="0.9" stroke-dasharray="5 0.8"/>
<line x1="310.8" y1="392" x2="310.8" y2="402" stroke="#7aa890" stroke-width="0.6" stroke-dasharray="2.5 2"/>
<rect x="308.45" y="402" width="4.7" height="42" fill="#2d7047"/>
<rect x="308.45" y="444" width="4.7" height="14.6" fill="#f3faf5"/>
<line x1="308.8" y1="444" x2="308.8" y2="458.6" stroke="#5fae82" stroke-width="0.9" stroke-dasharray="5 0.8"/>
<line x1="312.8" y1="444" x2="312.8" y2="458.6" stroke="#5fae82" stroke-width="0.9" stroke-dasharray="5 0.8"/>
<line x1="310.8" y1="444" x2="310.8" y2="458.6" stroke="#7aa890" stroke-width="0.6" stroke-dasharray="2.5 2"/>
<rect x="369.25" y="257.6" width="4.7" height="14.2" fill="#f3faf5"/>
<line x1="369.6" y1="257.6" x2="369.6" y2="271.8" stroke="#5fae82" stroke-width="0.9" stroke-dasharray="5 0.8"/>
<line x1="373.6" y1="257.6" x2="373.6" y2="271.8" stroke="#5fae82" stroke-width="0.9" stroke-dasharray="5 0.8"/>
<line x1="371.6" y1="257.6" x2="371.6" y2="271.8" stroke="#7aa890" stroke-width="0.6" stroke-dasharray="2.5 2"/>
<rect x="369.25" y="271.8" width="4.7" height="42" fill="#2d7047"/>
<rect x="369.25" y="313.8" width="4.7" height="12.6" fill="#f3faf5"/>
<line x1="369.6" y1="313.8" x2="369.6" y2="326.4" stroke="#5fae82" stroke-width="0.9" stroke-dasharray="5 0.8"/>
<line x1="373.6" y1="313.8" x2="373.6" y2="326.4" stroke="#5fae82" stroke-width="0.9" stroke-dasharray="5 0.8"/>
<line x1="371.6" y1="313.8" x2="371.6" y2="326.4" stroke="#7aa890" stroke-width="0.6" stroke-dasharray="2.5 2"/>
<rect x="369.25" y="326.4" width="4.7" height="6.6" fill="#2d7047"/>
<rect x="369.25" y="337.3" width="4.7" height="41.7" fill="#f3faf5"/>
<line x1="369.6" y1="337.3" x2="369.6" y2="379" stroke="#5fae82" stroke-width="0.9" stroke-dasharray="5 0.8"/>
<line x1="373.6" y1="337.3" x2="373.6" y2="379" stroke="#5fae82" stroke-width="0.9" stroke-dasharray="5 0.8"/>
<line x1="371.6" y1="337.3" x2="371.6" y2="379" stroke="#7aa890" stroke-width="0.6" stroke-dasharray="2.5 2"/>
<rect x="369.25" y="383.5" width="4.7" height="5.9" fill="#2d7047"/>
<rect x="369.25" y="389.4" width="4.7" height="12.6" fill="#f3faf5"/>
<line x1="369.6" y1="389.4" x2="369.6" y2="402" stroke="#5fae82" stroke-width="0.9" stroke-dasharray="5 0.8"/>
<line x1="373.6" y1="389.4" x2="373.6" y2="402" stroke="#5fae82" stroke-width="0.9" stroke-dasharray="5 0.8"/>
<line x1="371.6" y1="389.4" x2="371.6" y2="402" stroke="#7aa890" stroke-width="0.6" stroke-dasharray="2.5 2"/>
<rect x="369.25" y="402" width="4.7" height="42" fill="#2d7047"/>
<rect x="369.25" y="444" width="4.7" height="14.6" fill="#f3faf5"/>
<line x1="369.6" y1="444" x2="369.6" y2="458.6" stroke="#5fae82" stroke-width="0.9" stroke-dasharray="5 0.8"/>
<line x1="373.6" y1="444" x2="373.6" y2="458.6" stroke="#5fae82" stroke-width="0.9" stroke-dasharray="5 0.8"/>
<line x1="371.6" y1="444" x2="371.6" y2="458.6" stroke="#7aa890" stroke-width="0.6" stroke-dasharray="2.5 2"/>
<rect x="156.2" y="238.3" width="6.2" height="13.3" fill="#2d7047"/>
<rect x="156.2" y="464.6" width="6.2" height="13.2" fill="#2d7047"/>
<rect x="216.9" y="238.3" width="6.2" height="13.3" fill="#2d7047"/>
<rect x="216.9" y="464.6" width="6.2" height="13.2" fill="#2d7047"/>
<rect x="307.7" y="238.3" width="6.2" height="13.3" fill="#2d7047"/>
<rect x="307.7" y="464.6" width="6.2" height="13.2" fill="#2d7047"/>
<rect x="368.5" y="238.3" width="6.2" height="13.3" fill="#2d7047"/>
<rect x="368.5" y="464.6" width="6.2" height="13.2" fill="#2d7047"/>
<rect x="200" y="337" width="4.4" height="42.2" fill="#2d7047"/>
<rect x="353.7" y="337" width="4" height="26" fill="#2d7047"/>
<rect x="327" y="361" width="30.7" height="4.6" fill="#2d76a4"/>
<rect x="327" y="361.8" width="30.7" height="3" fill="#2e5c88"/>
<rect x="344.4" y="365.6" width="3.9" height="13.6" fill="#4e4e54"/>
<rect x="97.2" y="251.3" width="333.8" height="6.3" fill="#2d76a4"/>
<rect x="97.2" y="252.7" width="333.8" height="3.5" fill="#2e5c88"/>
<rect x="97.2" y="458.6" width="333.8" height="6.3" fill="#2d76a4"/>
<rect x="97.2" y="460" width="333.8" height="3.5" fill="#2e5c88"/>
<rect x="123" y="332.9" width="308" height="4.4" fill="#2d76a4"/>
<rect x="123" y="334.1" width="308" height="2" fill="#2e5c88"/>
<rect x="101" y="379" width="330" height="4.5" fill="#2d76a4"/>
<rect x="101" y="380.2" width="330" height="2.1" fill="#2e5c88"/>
<rect x="162.2" y="251.3" width="55" height="6.3" fill="#2d76a4"/>
<rect x="162.5" y="252.7" width="54.4" height="3.5" fill="#fff"/>
<line x1="163.2" y1="254.45" x2="216.2" y2="254.45" stroke="#8a9a94" stroke-width="0.8" stroke-dasharray="4 2"/>
<rect x="234.3" y="251.3" width="14.1" height="6.3" fill="#2d76a4"/>
<rect x="234.6" y="252.7" width="13.5" height="3.5" fill="#fff"/>
<line x1="235.3" y1="254.45" x2="247.4" y2="254.45" stroke="#8a9a94" stroke-width="0.8" stroke-dasharray="4 2"/>
<rect x="282" y="251.3" width="14.8" height="6.3" fill="#2d76a4"/>
<rect x="282.3" y="252.7" width="14.2" height="3.5" fill="#fff"/>
<line x1="283" y1="254.45" x2="295.8" y2="254.45" stroke="#8a9a94" stroke-width="0.8" stroke-dasharray="4 2"/>
<rect x="313.9" y="251.3" width="54.7" height="6.3" fill="#2d76a4"/>
<rect x="314.2" y="252.7" width="54.1" height="3.5" fill="#fff"/>
<line x1="314.9" y1="254.45" x2="367.6" y2="254.45" stroke="#8a9a94" stroke-width="0.8" stroke-dasharray="4 2"/>
<rect x="384.2" y="251.3" width="29.2" height="6.3" fill="#2d76a4"/>
<rect x="384.5" y="252.7" width="28.6" height="3.5" fill="#fff"/>
<line x1="385.2" y1="254.45" x2="412.4" y2="254.45" stroke="#8a9a94" stroke-width="0.8" stroke-dasharray="4 2"/>
<rect x="162.2" y="458.6" width="55" height="6.3" fill="#2d76a4"/>
<rect x="162.5" y="460" width="54.4" height="3.5" fill="#fff"/>
<line x1="163.2" y1="461.75" x2="216.2" y2="461.75" stroke="#8a9a94" stroke-width="0.8" stroke-dasharray="4 2"/>
<rect x="234.3" y="458.6" width="14.1" height="6.3" fill="#2d76a4"/>
<rect x="234.6" y="460" width="13.5" height="3.5" fill="#fff"/>
<line x1="235.3" y1="461.75" x2="247.4" y2="461.75" stroke="#8a9a94" stroke-width="0.8" stroke-dasharray="4 2"/>
<rect x="282" y="458.6" width="14.8" height="6.3" fill="#2d76a4"/>
<rect x="282.3" y="460" width="14.2" height="3.5" fill="#fff"/>
<line x1="283" y1="461.75" x2="295.8" y2="461.75" stroke="#8a9a94" stroke-width="0.8" stroke-dasharray="4 2"/>
<rect x="313.9" y="458.6" width="54.7" height="6.3" fill="#2d76a4"/>
<rect x="314.2" y="460" width="54.1" height="3.5" fill="#fff"/>
<line x1="314.9" y1="461.75" x2="367.6" y2="461.75" stroke="#8a9a94" stroke-width="0.8" stroke-dasharray="4 2"/>
<rect x="384.2" y="458.6" width="29.2" height="6.3" fill="#2d76a4"/>
<rect x="384.5" y="460" width="28.6" height="3.5" fill="#fff"/>
<line x1="385.2" y1="461.75" x2="412.4" y2="461.75" stroke="#8a9a94" stroke-width="0.8" stroke-dasharray="4 2"/>
<rect x="156.2" y="251.3" width="6.2" height="6.3" fill="#3b6b6c"/>
<rect x="216.9" y="251.3" width="6.2" height="6.3" fill="#3b6b6c"/>
<rect x="307.7" y="251.3" width="6.2" height="6.3" fill="#3b6b6c"/>
<rect x="368.5" y="251.3" width="6.2" height="6.3" fill="#3b6b6c"/>
<rect x="156.2" y="458.6" width="6.2" height="6.3" fill="#3b6b6c"/>
<rect x="216.9" y="458.6" width="6.2" height="6.3" fill="#3b6b6c"/>
<rect x="307.7" y="458.6" width="6.2" height="6.3" fill="#3b6b6c"/>
<rect x="368.5" y="458.6" width="6.2" height="6.3" fill="#3b6b6c"/>
<rect x="163.2" y="332.9" width="8.4" height="4.4" fill="#2d76a4"/>
<rect x="163.5" y="334.3" width="7.8" height="1.6" fill="#fff"/>
<line x1="164.2" y1="335.1" x2="170.6" y2="335.1" stroke="#8a9a94" stroke-width="0.8" stroke-dasharray="4 2"/>
<rect x="206" y="332.9" width="10.8" height="4.4" fill="#2d76a4"/>
<rect x="206.3" y="334.3" width="10.2" height="1.6" fill="#fff"/>
<line x1="207" y1="335.1" x2="215.8" y2="335.1" stroke="#8a9a94" stroke-width="0.8" stroke-dasharray="4 2"/>
<rect x="316" y="332.9" width="10.2" height="4.4" fill="#2d76a4"/>
<rect x="316.3" y="334.3" width="9.6" height="1.6" fill="#fff"/>
<line x1="317" y1="335.1" x2="325.2" y2="335.1" stroke="#8a9a94" stroke-width="0.8" stroke-dasharray="4 2"/>
<rect x="206" y="379" width="10.8" height="4.5" fill="#2d76a4"/>
<rect x="206.3" y="380.4" width="10.2" height="1.7" fill="#fff"/>
<line x1="207" y1="381.25" x2="215.8" y2="381.25" stroke="#8a9a94" stroke-width="0.8" stroke-dasharray="4 2"/>
<rect x="316" y="379" width="10.2" height="4.5" fill="#2d76a4"/>
<rect x="316.3" y="380.4" width="9.6" height="1.7" fill="#fff"/>
<line x1="317" y1="381.25" x2="325.2" y2="381.25" stroke="#8a9a94" stroke-width="0.8" stroke-dasharray="4 2"/>
<rect x="358.2" y="379" width="10.6" height="4.5" fill="#2d76a4"/>
<rect x="358.5" y="380.4" width="10" height="1.7" fill="#fff"/>
<line x1="359.2" y1="381.25" x2="367.8" y2="381.25" stroke="#8a9a94" stroke-width="0.8" stroke-dasharray="4 2"/>
</g>
<rect x="568.3" y="257.8" width="6.2" height="28.8" fill="#f3faf5"/>
<line x1="568.65" y1="257.8" x2="568.65" y2="286.6" stroke="#5fae82" stroke-width="0.9" stroke-dasharray="5 0.8"/>
<line x1="574.15" y1="257.8" x2="574.15" y2="286.6" stroke="#5fae82" stroke-width="0.9" stroke-dasharray="5 0.8"/>
<line x1="571.4" y1="257.8" x2="571.4" y2="286.6" stroke="#7aa890" stroke-width="0.6" stroke-dasharray="2.5 2"/>
<rect x="568.3" y="337.5" width="6.2" height="43.1" fill="#f3faf5"/>
<line x1="568.65" y1="337.5" x2="568.65" y2="380.6" stroke="#5fae82" stroke-width="0.9" stroke-dasharray="5 0.8"/>
<line x1="574.15" y1="337.5" x2="574.15" y2="380.6" stroke="#5fae82" stroke-width="0.9" stroke-dasharray="5 0.8"/>
<line x1="571.4" y1="337.5" x2="571.4" y2="380.6" stroke="#7aa890" stroke-width="0.6" stroke-dasharray="2.5 2"/>
<rect x="568.3" y="432.5" width="6.2" height="29.3" fill="#f3faf5"/>
<line x1="568.65" y1="432.5" x2="568.65" y2="461.8" stroke="#5fae82" stroke-width="0.9" stroke-dasharray="5 0.8"/>
<line x1="574.15" y1="432.5" x2="574.15" y2="461.8" stroke="#5fae82" stroke-width="0.9" stroke-dasharray="5 0.8"/>
<line x1="571.4" y1="432.5" x2="571.4" y2="461.8" stroke="#7aa890" stroke-width="0.6" stroke-dasharray="2.5 2"/>
<rect x="565" y="286.6" width="9.5" height="51" fill="#4f5d58"/>
<rect x="565" y="385" width="9.5" height="47.5" fill="#4f5d58"/>
<line x1="565" y1="262" x2="565" y2="457.5" stroke="#8c8c8c" stroke-width="0.7"/>
<rect x="897.6" y="257.8" width="6.4" height="55.8" fill="#43614f"/>
<rect x="897.6" y="313.6" width="6.4" height="13.6" fill="#f3faf5"/>
<line x1="897.95" y1="313.6" x2="897.95" y2="327.2" stroke="#5fae82" stroke-width="0.9" stroke-dasharray="5 0.8"/>
<line x1="903.65" y1="313.6" x2="903.65" y2="327.2" stroke="#5fae82" stroke-width="0.9" stroke-dasharray="5 0.8"/>
<line x1="900.8" y1="313.6" x2="900.8" y2="327.2" stroke="#7aa890" stroke-width="0.6" stroke-dasharray="2.5 2"/>
<rect x="904.1" y="313.6" width="7.4" height="13.6" fill="#f3faf5"/>
<line x1="904.45" y1="313.6" x2="904.45" y2="327.2" stroke="#5fae82" stroke-width="0.9" stroke-dasharray="5 0.8"/>
<line x1="911.15" y1="313.6" x2="911.15" y2="327.2" stroke="#5fae82" stroke-width="0.9" stroke-dasharray="5 0.8"/>
<line x1="907.8" y1="313.6" x2="907.8" y2="327.2" stroke="#7aa890" stroke-width="0.6" stroke-dasharray="2.5 2"/>
<rect x="897.6" y="327.2" width="6.4" height="36.8" fill="#43614f"/>
<rect x="897.6" y="364" width="6.4" height="11.8" fill="#f3faf5"/>
<line x1="897.95" y1="364" x2="897.95" y2="375.8" stroke="#5fae82" stroke-width="0.9" stroke-dasharray="5 0.8"/>
<line x1="903.65" y1="364" x2="903.65" y2="375.8" stroke="#5fae82" stroke-width="0.9" stroke-dasharray="5 0.8"/>
<line x1="900.8" y1="364" x2="900.8" y2="375.8" stroke="#7aa890" stroke-width="0.6" stroke-dasharray="2.5 2"/>
<rect x="904.1" y="364" width="7.4" height="11.8" fill="#f3faf5"/>
<line x1="904.45" y1="364" x2="904.45" y2="375.8" stroke="#5fae82" stroke-width="0.9" stroke-dasharray="5 0.8"/>
<line x1="911.15" y1="364" x2="911.15" y2="375.8" stroke="#5fae82" stroke-width="0.9" stroke-dasharray="5 0.8"/>
<line x1="907.8" y1="364" x2="907.8" y2="375.8" stroke="#7aa890" stroke-width="0.6" stroke-dasharray="2.5 2"/>
<rect x="897.6" y="375.8" width="6.4" height="15.9" fill="#43614f"/>
<rect x="897.6" y="391.7" width="6.4" height="13.8" fill="#f3faf5"/>
<line x1="897.95" y1="391.7" x2="897.95" y2="405.5" stroke="#5fae82" stroke-width="0.9" stroke-dasharray="5 0.8"/>
<line x1="903.65" y1="391.7" x2="903.65" y2="405.5" stroke="#5fae82" stroke-width="0.9" stroke-dasharray="5 0.8"/>
<line x1="900.8" y1="391.7" x2="900.8" y2="405.5" stroke="#7aa890" stroke-width="0.6" stroke-dasharray="2.5 2"/>
<rect x="904.1" y="391.7" width="7.4" height="13.8" fill="#f3faf5"/>
<line x1="904.45" y1="391.7" x2="904.45" y2="405.5" stroke="#5fae82" stroke-width="0.9" stroke-dasharray="5 0.8"/>
<line x1="911.15" y1="391.7" x2="911.15" y2="405.5" stroke="#5fae82" stroke-width="0.9" stroke-dasharray="5 0.8"/>
<line x1="907.8" y1="391.7" x2="907.8" y2="405.5" stroke="#7aa890" stroke-width="0.6" stroke-dasharray="2.5 2"/>
<rect x="897.6" y="405.5" width="6.4" height="56.3" fill="#43614f"/>
<rect x="617.9" y="193" width="18.8" height="45.6" fill="#39b249" stroke="#2a7f38" stroke-width="1"/>
<rect x="625.6" y="193" width="4.2" height="45.6" fill="#35a444"/>
<line x1="625.6" y1="193" x2="625.6" y2="238.6" stroke="#2a7a3a" stroke-width="0.8"/>
<line x1="629.8" y1="193" x2="629.8" y2="238.6" stroke="#2a7a3a" stroke-width="0.8"/>
<rect x="680.1" y="193" width="18.8" height="45.6" fill="#39b249" stroke="#2a7f38" stroke-width="1"/>
<rect x="687.3" y="193" width="4.2" height="45.6" fill="#35a444"/>
<line x1="687.3" y1="193" x2="687.3" y2="238.6" stroke="#2a7a3a" stroke-width="0.8"/>
<line x1="691.5" y1="193" x2="691.5" y2="238.6" stroke="#2a7a3a" stroke-width="0.8"/>
<rect x="772.3" y="193" width="18.8" height="45.6" fill="#39b249" stroke="#2a7f38" stroke-width="1"/>
<rect x="779.6" y="193" width="4.2" height="45.6" fill="#35a444"/>
<line x1="779.6" y1="193" x2="779.6" y2="238.6" stroke="#2a7a3a" stroke-width="0.8"/>
<line x1="783.8" y1="193" x2="783.8" y2="238.6" stroke="#2a7a3a" stroke-width="0.8"/>
<rect x="834.4" y="193" width="18.8" height="45.6" fill="#39b249" stroke="#2a7f38" stroke-width="1"/>
<rect x="841.3" y="193" width="4.2" height="45.6" fill="#35a444"/>
<line x1="841.3" y1="193" x2="841.3" y2="238.6" stroke="#2a7a3a" stroke-width="0.8"/>
<line x1="845.5" y1="193" x2="845.5" y2="238.6" stroke="#2a7a3a" stroke-width="0.8"/>
<rect x="726.3" y="207" width="18.6" height="44.6" fill="#39b249" stroke="#2a7f38" stroke-width="1"/>
<rect x="733.6" y="207" width="4.2" height="44.6" fill="#35a444"/>
<line x1="733.6" y1="207" x2="733.6" y2="251.6" stroke="#2a7a3a" stroke-width="0.8"/>
<line x1="737.8" y1="207" x2="737.8" y2="251.6" stroke="#2a7a3a" stroke-width="0.8"/>
<rect x="619" y="480.8" width="18.8" height="45.5" fill="#39b249" stroke="#2a7f38" stroke-width="1"/>
<rect x="626.2" y="480.8" width="4.2" height="45.5" fill="#35a444"/>
<line x1="626.2" y1="480.8" x2="626.2" y2="526.3" stroke="#2a7a3a" stroke-width="0.8"/>
<line x1="630.4" y1="480.8" x2="630.4" y2="526.3" stroke="#2a7a3a" stroke-width="0.8"/>
<rect x="681.1" y="480.8" width="18.8" height="45.5" fill="#39b249" stroke="#2a7f38" stroke-width="1"/>
<rect x="688.1" y="480.8" width="4.2" height="45.5" fill="#35a444"/>
<line x1="688.1" y1="480.8" x2="688.1" y2="526.3" stroke="#2a7a3a" stroke-width="0.8"/>
<line x1="692.3" y1="480.8" x2="692.3" y2="526.3" stroke="#2a7a3a" stroke-width="0.8"/>
<rect x="773.5" y="480.8" width="18.8" height="45.5" fill="#39b249" stroke="#2a7f38" stroke-width="1"/>
<rect x="780.5" y="480.8" width="4.2" height="45.5" fill="#35a444"/>
<line x1="780.5" y1="480.8" x2="780.5" y2="526.3" stroke="#2a7a3a" stroke-width="0.8"/>
<line x1="784.7" y1="480.8" x2="784.7" y2="526.3" stroke="#2a7a3a" stroke-width="0.8"/>
<rect x="835.6" y="480.8" width="18.8" height="45.5" fill="#39b249" stroke="#2a7f38" stroke-width="1"/>
<rect x="842.5" y="480.8" width="4.2" height="45.5" fill="#35a444"/>
<line x1="842.5" y1="480.8" x2="842.5" y2="526.3" stroke="#2a7a3a" stroke-width="0.8"/>
<line x1="846.7" y1="480.8" x2="846.7" y2="526.3" stroke="#2a7a3a" stroke-width="0.8"/>
<rect x="727" y="467.8" width="18.6" height="44.4" fill="#39b249" stroke="#2a7f38" stroke-width="1"/>
<rect x="734.2" y="467.8" width="4.2" height="44.4" fill="#35a444"/>
<line x1="734.2" y1="467.8" x2="734.2" y2="512.2" stroke="#2a7a3a" stroke-width="0.8"/>
<line x1="738.4" y1="467.8" x2="738.4" y2="512.2" stroke="#2a7a3a" stroke-width="0.8"/>
<rect x="550.5" y="292" width="18.6" height="37.3" fill="#39b249" stroke="#2a7f38" stroke-width="1"/>
<rect x="551.1" y="390.5" width="18" height="36.8" fill="#39b249" stroke="#2a7f38" stroke-width="1"/>
<line x1="559.8" y1="292" x2="559.8" y2="329" stroke="#2f9a3f" stroke-width="0.8" stroke-dasharray="4 2"/>
<line x1="559.8" y1="391" x2="559.8" y2="427" stroke="#2f9a3f" stroke-width="0.8" stroke-dasharray="4 2"/>
<line x1="550.8" y1="343.8" x2="550.8" y2="375.8" stroke="#3aa64c" stroke-width="0.8" stroke-dasharray="4 2"/>
<line x1="565.3" y1="343.8" x2="565.3" y2="375.8" stroke="#3aa64c" stroke-width="0.8" stroke-dasharray="4 2"/>
<rect x="511.8" y="247.4" width="53.2" height="14.7" fill="#1a78cf"/>
<rect x="511.8" y="252.55" width="53.2" height="4.4" fill="#1870c4"/>
<line x1="511.8" y1="254.75" x2="565" y2="254.75" stroke="#10508f" stroke-width="0.8" stroke-dasharray="6 3.4"/>
<rect x="516" y="329.2" width="52.8" height="14.5" fill="#1a78cf"/>
<rect x="516" y="334.25" width="52.8" height="4.4" fill="#1870c4"/>
<line x1="516" y1="336.45" x2="568.8" y2="336.45" stroke="#10508f" stroke-width="0.8" stroke-dasharray="6 3.4"/>
<rect x="516" y="375.8" width="53" height="14.7" fill="#1a78cf"/>
<rect x="516" y="380.95" width="53" height="4.4" fill="#1870c4"/>
<line x1="516" y1="383.15" x2="569" y2="383.15" stroke="#10508f" stroke-width="0.8" stroke-dasharray="6 3.4"/>
<rect x="512" y="457.3" width="53.5" height="14.6" fill="#1a78cf"/>
<rect x="512" y="462.4" width="53.5" height="4.4" fill="#1870c4"/>
<line x1="512" y1="464.6" x2="565.5" y2="464.6" stroke="#10508f" stroke-width="0.8" stroke-dasharray="6 3.4"/>
<rect x="903.2" y="246.8" width="53.1" height="14.8" fill="#1a78cf"/>
<rect x="903.2" y="252" width="53.1" height="4.4" fill="#1870c4"/>
<line x1="903.2" y1="254.2" x2="956.3" y2="254.2" stroke="#10508f" stroke-width="0.8" stroke-dasharray="6 3.4"/>
<rect x="911.6" y="328.2" width="44.7" height="14.8" fill="#1a78cf"/>
<rect x="911.6" y="333.4" width="44.7" height="4.4" fill="#1870c4"/>
<line x1="911.6" y1="335.6" x2="956.3" y2="335.6" stroke="#10508f" stroke-width="0.8" stroke-dasharray="6 3.4"/>
<rect x="904" y="375.3" width="52.3" height="14.6" fill="#1a78cf"/>
<rect x="904" y="380.4" width="52.3" height="4.4" fill="#1870c4"/>
<line x1="904" y1="382.6" x2="956.3" y2="382.6" stroke="#10508f" stroke-width="0.8" stroke-dasharray="6 3.4"/>
<rect x="904" y="456.6" width="52.8" height="14.8" fill="#1a78cf"/>
<rect x="904" y="461.8" width="52.8" height="4.4" fill="#1870c4"/>
<line x1="904" y1="464" x2="956.8" y2="464" stroke="#10508f" stroke-width="0.8" stroke-dasharray="6 3.4"/>
<rect x="903.6" y="291.6" width="7.8" height="22" fill="#39b249" stroke="#2a7f38" stroke-width="1"/>
<rect x="903.6" y="327.4" width="7.8" height="36.6" fill="#39b249" stroke="#2a7f38" stroke-width="1"/>
<rect x="904" y="381.6" width="7.6" height="10.2" fill="#39b249" stroke="#2a7f38" stroke-width="1"/>
<rect x="904" y="405.5" width="7.6" height="21.4" fill="#39b249" stroke="#2a7f38" stroke-width="1"/>
<text x="706" y="265" font-size="6.6" fill="#333">OP</text>
<text x="756.5" y="265" font-size="6.6" fill="#333">OP</text>
<text x="885.8" y="323.6" font-size="6.6" fill="#333">OP</text>
<text x="885.8" y="375.9" font-size="6.6" fill="#333">OP</text>
<text x="885.8" y="401" font-size="6.6" fill="#333">OP</text>
<text x="706.4" y="457.8" font-size="6.6" fill="#333">OP</text>
<text x="756.8" y="457.8" font-size="6.6" fill="#333">OP</text>
<text x="915" y="304.5" font-size="9.4" fill="#2a2a2a">A</text>
<text x="914.6" y="357.3" font-size="9.4" fill="#2a2a2a">B</text>
<text x="914.6" y="396.1" font-size="9.4" fill="#2a2a2a">C</text>
<text x="914.6" y="418.5" font-size="9.4" fill="#2a2a2a">D</text>
</g>
</svg>

<svg width="1024" height="768" viewBox="0 0 1024 768">
<g fill="none" stroke="#808080" stroke-width="1.6">
<rect x="141.2" y="585.5" width="725.4" height="106.3"/>
<line x1="141.2" y1="622.5" x2="866.6" y2="622.5"/>
<line x1="141.2" y1="659.6" x2="866.6" y2="659.6"/>
<line x1="383" y1="622.5" x2="383" y2="691.8"/>
<line x1="625.4" y1="622.5" x2="625.4" y2="691.8"/>
</g></svg>
<div class="c" style="left:141px;width:726px;top:596.8px;white-space:pre;">Potresna odpornost:   ocenjena / zahtevana (EC8)</div>
<div class="c" style="left:141px;width:242px;top:633.8px;">Obstoječe stanja</div>
<div class="c" style="left:383px;width:242px;top:633.8px;">Notranja utrditev</div>
<div class="c" style="left:625px;width:242px;top:633.8px;">Zunanja utrditev</div>
<div class="c red" style="left:141px;width:242px;top:668.3px;">9.6 %</div>
<div class="c red" style="left:383px;width:242px;top:668.3px;">18.9 %</div>
<div class="c" style="left:625px;width:242px;top:668.3px;">98.0 %</div>
<div id="sq"></div>
<div class="t" id="www">www.zag.si</div>
</body></html>
